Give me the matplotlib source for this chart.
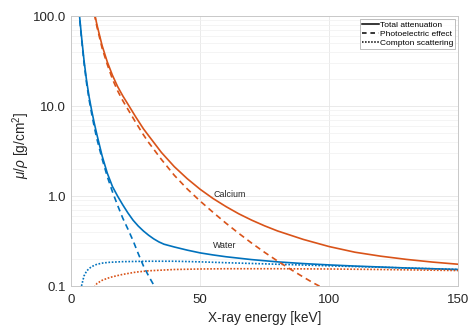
import matplotlib
matplotlib.use("Agg")
import matplotlib.pyplot as plt
from matplotlib.ticker import FixedLocator, FixedFormatter, NullFormatter

plt.rcParams['font.family'] = ['Liberation Sans', 'DejaVu Sans']
plt.rcParams['mathtext.fontset'] = 'custom'
plt.rcParams['mathtext.it'] = 'Liberation Sans:italic'
plt.rcParams['mathtext.rm'] = 'Liberation Sans'

# Data ################
# water
e_water = [3, 4, 5, 6, 7, 8, 9, 10, 12, 14, 16, 18, 20, 22, 24, 26, 28, 30, 32, 34,
           36, 40, 45, 50, 55, 60, 70, 80, 90, 100, 110, 120, 130, 140, 150]
water_total = [120, 60, 32, 19, 12.5, 8.8, 6.4, 4.8, 2.8, 1.8, 1.28, 1.0, 0.80, 0.65,
               0.54, 0.465, 0.41, 0.368, 0.335, 0.31, 0.292, 0.272, 0.251, 0.234,
               0.222, 0.212, 0.197, 0.186, 0.178, 0.172, 0.167, 0.163, 0.159, 0.156,
               0.153]
e_water_pe = [3, 4, 5, 6, 7, 8, 9, 10, 12, 14, 16, 18, 20, 22, 24, 26, 28, 30, 32, 34]
water_pe = [115, 57, 30, 17.8, 11.6, 8.1, 5.8, 4.3, 2.6, 1.65, 1.12, 0.79, 0.57, 0.43,
            0.32, 0.23, 0.168, 0.13, 0.103, 0.085]
e_water_cs = [3.5, 4, 5, 6, 7, 8, 10, 12.5, 15, 20, 30, 40, 50, 60, 80, 100, 120, 150]
water_cs = [0.085, 0.10, 0.13, 0.147, 0.157, 0.165, 0.175, 0.181, 0.184, 0.187, 0.189,
            0.189, 0.186, 0.182, 0.175, 0.168, 0.162, 0.153]

# calcium
e_ca = [9, 10, 12, 14, 16, 18, 20, 22, 25, 28, 30, 35, 40, 45, 50, 55, 60, 65, 70,
        75, 80, 90, 100, 110, 120, 130, 140, 150]
ca_total = [110, 80, 47, 31, 22, 16.5, 13, 10.5, 7.6, 5.6, 4.7, 3.05, 2.12, 1.56, 1.19,
            0.94, 0.765, 0.635, 0.54, 0.467, 0.41, 0.33, 0.275, 0.238, 0.215, 0.198,
            0.185, 0.175]
e_ca_pe = [9, 10, 12, 14, 16, 18, 20, 22, 25, 28, 30, 35, 40, 45, 50, 55, 60, 65, 70,
           75, 80, 85, 90, 94, 98]
ca_pe = [105, 76, 44, 29, 20, 14.8, 11.5, 9.2, 6.6, 4.8, 3.95, 2.55, 1.7, 1.2, 0.88,
         0.66, 0.5, 0.385, 0.3, 0.237, 0.19, 0.154, 0.126, 0.108, 0.094]
e_ca_cs = [9, 10, 12, 14, 16, 18, 20, 25, 30, 40, 50, 60, 80, 100, 120, 150]
ca_cs = [0.097, 0.107, 0.116, 0.122, 0.127, 0.131, 0.135, 0.143, 0.148, 0.153,
         0.155, 0.156, 0.156, 0.155, 0.153, 0.149]
#########################

blue = '#0072BD'
red = '#D95319'

fig = plt.figure(figsize=(4.68, 3.27), dpi=100)
ax = fig.add_axes([0.152, 0.125, 0.827, 0.826])

lw = 1.2
dash = (0, (3.5, 2.5))
dot = (0, (1, 1))
ax.plot(e_water, water_total, color=blue, lw=lw)
ax.plot(e_water_pe, water_pe, color=blue, lw=lw, ls=dash)
ax.plot(e_water_cs, water_cs, color=blue, lw=lw, ls=dot)
ax.plot(e_ca, ca_total, color=red, lw=lw)
ax.plot(e_ca_pe, ca_pe, color=red, lw=lw, ls=dash)
ax.plot(e_ca_cs, ca_cs, color=red, lw=lw, ls=dot)

ax.text(55, 1.05, 'Calcium', fontsize=6.4, color='#262626', va='center')
ax.text(55, 0.28, 'Water', fontsize=6.4, color='#262626', va='center')

ax.set_yscale('log')
ax.set_xlim(0, 150)
ax.set_ylim(0.1, 100)
ax.xaxis.set_major_locator(FixedLocator([0, 50, 100, 150]))
ax.yaxis.set_major_locator(FixedLocator([0.1, 1, 10, 100]))
ax.yaxis.set_major_formatter(FixedFormatter(['0.1', '1.0', '10.0', '100.0']))
ax.yaxis.set_minor_formatter(NullFormatter())
ax.tick_params(which='both', length=0, labelsize=9.5, colors='#262626')
ax.tick_params(axis='x', pad=6)
ax.grid(True, which='major', color='#e6e6e6', lw=0.6)
ax.grid(True, which='minor', axis='y', color='#f0f0f0', lw=0.5)
ax.set_axisbelow(True)
for s in ax.spines.values():
    s.set_color('#c8c8c8')
    s.set_linewidth(0.7)

ax.set_xlabel('X-ray energy [keV]', fontsize=9.8, color='#262626', labelpad=3)
ax.set_ylabel(r'$\mu/\rho$ [g/cm$^2$]', fontsize=9.8, color='#262626')
ax.yaxis.set_label_coords(-0.10, 0.52)

h1, = ax.plot([], [], color='k', lw=1.1, label='Total attenuation')
h2, = ax.plot([], [], color='k', lw=1.1, ls=(0, (3, 2.5)), label='Photoelectric effect')
h3, = ax.plot([], [], color='k', lw=1.1, ls=(0, (1, 1)), label='Compton scattering')
leg = ax.legend(handles=[h1, h2, h3], loc='upper right', fontsize=6, frameon=True,
                fancybox=False, borderaxespad=0.35, handlelength=2.0, handletextpad=0.1,
                labelspacing=0.15, borderpad=0.25)
leg.get_frame().set_edgecolor('#a0a0a0')
leg.get_frame().set_linewidth(0.6)

fig.savefig('out.png', dpi=100)
